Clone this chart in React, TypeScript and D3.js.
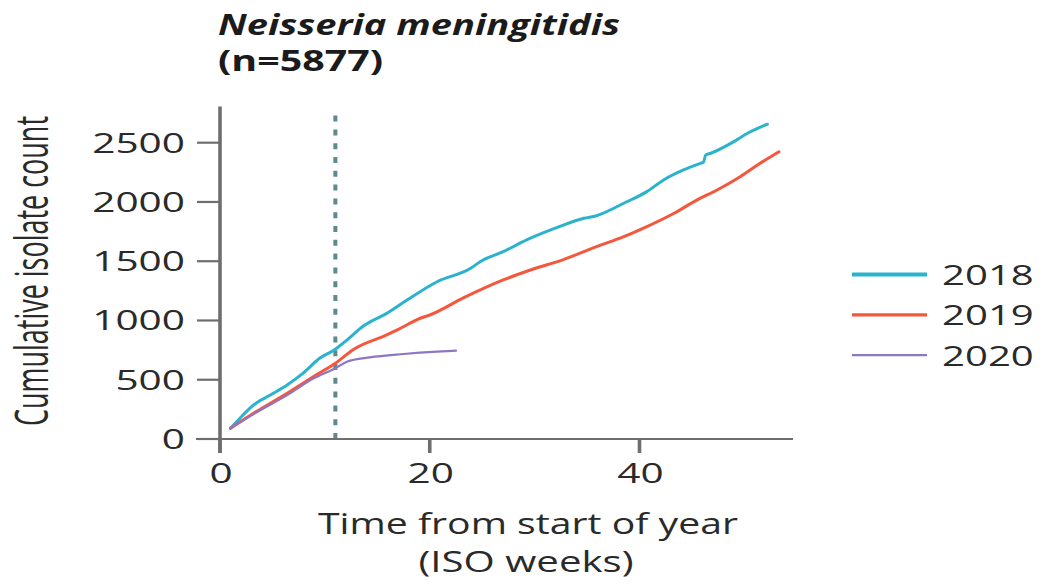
import React from "react";
import * as d3 from "d3";

const weeks2018 = [1, 2.2, 3.2, 4.8, 6.4, 7.9, 9.5, 11, 12.1, 13.7, 15.9, 17.8, 20.7, 23.9, 24.8, 27, 29.6, 32.1, 34.7, 35.9, 38.5, 40.7, 42.3, 44.2, 45.8, 46.1, 46.3, 46.8, 49, 50.3, 52.2];
const counts2018 = [90, 203, 287, 371, 456, 554, 681, 757, 835, 955, 1060, 1170, 1327, 1440, 1496, 1581, 1694, 1783, 1862, 1884, 1989, 2087, 2186, 2270, 2326, 2335, 2395, 2411, 2509, 2580, 2656];

const weeks2019 = [1, 3.2, 6.4, 8.9, 11, 12.8, 15.9, 16.9, 19.1, 20, 23.2, 27, 29.6, 32.8, 35.9, 38.5, 40.7, 43.3, 45.5, 47.4, 49.6, 51.5, 53.3];
const counts2019 = [90, 217, 386, 526, 639, 760, 878, 920, 1019, 1046, 1190, 1342, 1426, 1516, 1623, 1707, 1792, 1905, 2017, 2101, 2213, 2326, 2424];

const weeks2020 = [1, 3.2, 6.4, 8.9, 11, 12.1, 14.3, 17.5, 20.7, 22.5];
const counts2020 = [90, 210, 370, 510, 597, 652, 689, 717, 737, 745];

const years = ["2018", "2019", "2020"];
const xTicks = [0, 20, 40];
const yTicks = [0, 500, 1000, 1500, 2000, 2500];
const cutoffWeek = 11;
const titleLine1 = "Neisseria meningitidis";
const titleLine2 = "(n=5877)";
const xTitle1 = "Time from start of year";
const xTitle2 = "(ISO weeks)";
const yTitle = "Cumulative isolate count";

const seriesData = [
  { year: years[0], weeks: weeks2018, counts: counts2018, color: "#2bb3cd", width: 3, legendWidth: 4 },
  { year: years[1], weeks: weeks2019, counts: counts2019, color: "#f5573c", width: 3, legendWidth: 3.2 },
  { year: years[2], weeks: weeks2020, counts: counts2020, color: "#8f76c2", width: 2.2, legendWidth: 2.4 },
];

const x = d3.scaleLinear().domain([0, 40]).range([220, 639.5]);
const y = d3.scaleLinear().domain([0, 2500]).range([439, 142.7]);

const DIGIT_W = 23.2;
const TEXT = "#2a2a2a";
const AXIS = "#6e6e6e";
const FONT = "'Open Sans', 'Noto Sans', sans-serif";

export default function App() {
  const line = d3
    .line<[number, number]>()
    .x((d) => x(d[0]))
    .y((d) => y(d[1]))
    .curve(d3.curveMonotoneX);

  const axisX0 = 196;
  const axisX1 = 793;
  const yAxisTop = y(2805);
  const tickLenX = 14;
  const tickLenY = 23;

  return (
    <div style={{ position: "absolute", left: 0, top: 0 }}>
      <svg width={1046} height={584} style={{ display: "block", background: "#fff" }} fontFamily={FONT}>
        {/* Title */}
        <text x={218} y={35} fontSize={28} fontWeight={700} fontStyle="italic" fill="#1b1b1b" textLength={402} lengthAdjust="spacingAndGlyphs">
          {titleLine1}
        </text>
        <text x={218} y={71} fontSize={28} fontWeight={700} fill="#1b1b1b" textLength={165} lengthAdjust="spacingAndGlyphs">
          {titleLine2}
        </text>

        {/* Cutoff dashed line */}
        <line x1={x(cutoffWeek)} x2={x(cutoffWeek)} y1={y(0)} y2={y(2770)} stroke="#5d8a8c" strokeWidth={4} strokeDasharray="6 7.8" />

        {/* Axes */}
        <line x1={axisX0} x2={axisX1} y1={y(0)} y2={y(0)} stroke={AXIS} strokeWidth={2.2} />
        <line x1={x(0)} x2={x(0)} y1={yAxisTop} y2={y(0) + tickLenX} stroke={AXIS} strokeWidth={3.6} />
        {yTicks.map((t) => (
          <g key={"yt" + t}>
            <line x1={x(0) - tickLenY} x2={x(0)} y1={y(t)} y2={y(t)} stroke={AXIS} strokeWidth={2.2} />
            <text x={185} y={y(t) + 10} fontSize={27} fill={TEXT} textAnchor="end" textLength={DIGIT_W * String(t).length} lengthAdjust="spacingAndGlyphs">
              {t}
            </text>
          </g>
        ))}
        {xTicks.map((t) => (
          <g key={"xt" + t}>
            <line x1={x(t)} x2={x(t)} y1={y(0)} y2={y(0) + tickLenX} stroke={AXIS} strokeWidth={3.6} />
            <text x={x(t) + 1} y={483} fontSize={27} fill={TEXT} textAnchor="middle" textLength={DIGIT_W * String(t).length} lengthAdjust="spacingAndGlyphs">
              {t}
            </text>
          </g>
        ))}

        {/* Series */}
        {seriesData.map((s) => (
          <path
            key={s.year}
            d={line(s.weeks.map((w, i) => [w, s.counts[i]] as [number, number])) || ""}
            fill="none"
            stroke={s.color}
            strokeWidth={s.width}
            strokeLinejoin="round"
            strokeLinecap="round"
          />
        ))}

        {/* Axis titles */}
        <text x={528} y={534} fontSize={30} fill={TEXT} textAnchor="middle" textLength={420} lengthAdjust="spacingAndGlyphs">
          {xTitle1}
        </text>
        <text x={526} y={572} fontSize={30} fill={TEXT} textAnchor="middle" textLength={215} lengthAdjust="spacingAndGlyphs">
          {xTitle2}
        </text>
        <text
          transform="translate(48,271) scale(1.5,1) rotate(-90)"
          fontSize={30}
          fill={TEXT}
          textAnchor="middle"
          textLength={310}
          lengthAdjust="spacingAndGlyphs"
        >
          {yTitle}
        </text>

        {/* Legend */}
        {seriesData.map((s, i) => {
          const ly = 274.5 + i * 40.3;
          return (
            <g key={"lg" + s.year}>
              <line x1={852} x2={927} y1={ly} y2={ly} stroke={s.color} strokeWidth={s.legendWidth} />
              <text x={942} y={ly + 10.5} fontSize={27} fill={TEXT} textLength={DIGIT_W * s.year.length - 1} lengthAdjust="spacingAndGlyphs">
                {s.year}
              </text>
            </g>
          );
        })}
      </svg>
    </div>
  );
}
